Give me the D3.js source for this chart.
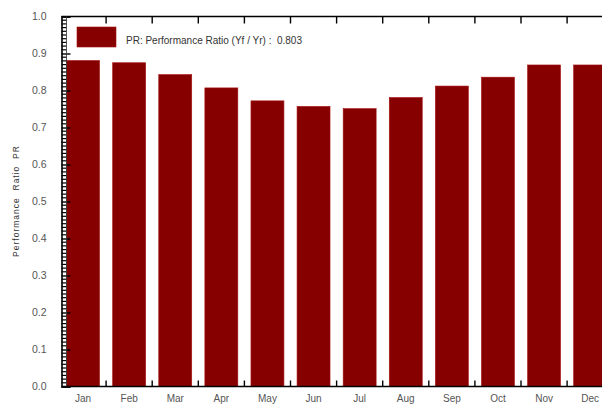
<!DOCTYPE html>
<html><head><meta charset="utf-8">
<script src="https://cdn.jsdelivr.net/npm/d3@7"></script>
<style>body{margin:0;background:#fff;overflow:hidden}text{font-family:"Liberation Sans",Arial,sans-serif}</style>
</head><body><svg id="c" width="602" height="404"></svg>
<script>
const months = ["Jan","Feb","Mar","Apr","May","Jun","Jul","Aug","Sep","Oct","Nov","Dec"];
const prValues = [0.881,0.875,0.843,0.807,0.772,0.757,0.751,0.781,0.812,0.836,0.869,0.869];
const yTicks = [0.0,0.1,0.2,0.3,0.4,0.5,0.6,0.7,0.8,0.9,1.0];
const legendLabel = "PR: Performance Ratio (Yf / Yr) :  0.803";
const yTitle = "Performance  Ratio  PR";

const svg = d3.select("#c");
const L = 61.5, T = 16.5, B = 386.5, R = 614;
const x = d3.scaleBand().domain(months).range([60, 613.2]).paddingInner(0.285).paddingOuter(0.1425);
const y = d3.scaleLinear().domain([0,1]).range([B, T]);
const col = "#870000";
const ink = "#000";

// bars
svg.append("g").selectAll("rect").data(months).join("rect")
  .attr("x", d => x(d)).attr("width", x.bandwidth())
  .attr("y", (d,i) => y(prValues[i])).attr("height", (d,i) => B - y(prValues[i]))
  .attr("fill", col).attr("stroke", "#a51010").attr("stroke-width", 0.6);

// frame lines
svg.append("line").attr("x1",L).attr("x2",R).attr("y1",T).attr("y2",T).attr("stroke",ink).attr("stroke-width",1.6);
svg.append("line").attr("x1",L).attr("x2",R).attr("y1",B).attr("y2",B).attr("stroke",ink).attr("stroke-width",1.6);

// y axis
const yAxis = d3.axisLeft(y).tickValues(yTicks).tickFormat(d3.format(".1f")).tickSize(-9).tickPadding(15);
const gy = svg.append("g").attr("transform",`translate(${L},0)`).call(yAxis);
gy.select(".domain").attr("stroke",ink).attr("stroke-width",1.6);
gy.selectAll(".tick line").attr("stroke",ink).attr("stroke-width",1.4);
gy.selectAll(".tick text").attr("fill","#555").attr("font-size",10.5).attr("font-family","Liberation Sans, Arial, sans-serif");
// minor ticks
const minor = d3.range(0,101).map(i => i/100).filter(v => Math.round(v*100)%10 !== 0);
svg.append("g").selectAll("line").data(minor).join("line")
  .attr("x1",L).attr("x2",L+5).attr("y1",d=>y(d)).attr("y2",d=>y(d))
  .attr("stroke",ink).attr("stroke-width",1.2);
svg.append("line").attr("x1",L+5).attr("x2",L+5).attr("y1",T).attr("y2",B).attr("stroke","#333").attr("stroke-width",0.8);

// x axis bottom
const bounds = months.slice(1).map(m => x(m) - x.step()*x.paddingInner()/2);
const xAxis = d3.axisBottom(x).tickSize(0).tickPadding(8);
const gx = svg.append("g").attr("transform",`translate(0,${B})`).call(xAxis);
gx.select(".domain").remove();
gx.selectAll(".tick text").attr("fill","#555").attr("font-size",10).attr("font-family","Liberation Sans, Arial, sans-serif");
svg.append("g").selectAll("line").data(bounds).join("line")
  .attr("x1",d=>d).attr("x2",d=>d).attr("y1",B).attr("y2",B-6).attr("stroke",ink).attr("stroke-width",1.4);
svg.append("g").selectAll("line").data(bounds).join("line")
  .attr("x1",d=>d).attr("x2",d=>d).attr("y1",T).attr("y2",T+7).attr("stroke",ink).attr("stroke-width",1.4);

// y title
svg.append("text").attr("transform","translate(19,201) rotate(-90)").attr("text-anchor","middle")
  .attr("font-size",8.5).attr("fill","#333").attr("letter-spacing",1.0).attr("xml:space","preserve").text(yTitle);

// legend
svg.append("rect").attr("x",77).attr("y",27).attr("width",39).attr("height",20).attr("fill",col).attr("stroke","#a51010").attr("stroke-width",0.6);
svg.append("text").attr("x",126).attr("y",44).attr("font-size",10).attr("fill","#333").attr("xml:space","preserve").text(legendLabel);
</script></body></html>
